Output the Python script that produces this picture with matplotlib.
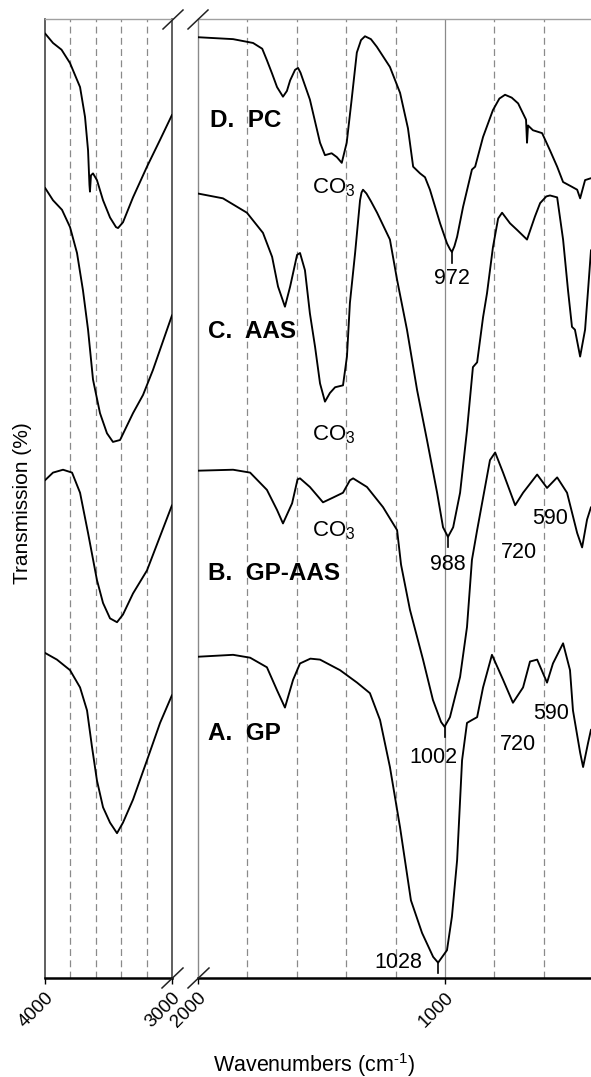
import matplotlib
matplotlib.use("Agg")
import matplotlib.pyplot as plt
from matplotlib.lines import Line2D

plt.rcParams['font.family'] = ['Liberation Sans', 'DejaVu Sans']
plt.rcParams['mathtext.fontset'] = 'custom'
plt.rcParams['mathtext.rm'] = 'Liberation Sans'
plt.rcParams['mathtext.it'] = 'Liberation Sans:italic'

# ---- spectra: wavenumber (cm-1) and transmission (offset, arbitrary %) ----
# D. PC
D_wn = [4000, 3937, 3870, 3803, 3724, 3685, 3661, 3650, 3646, 3638, 3622, 3591, 3543, 3488, 3441, 3425,
        3386, 3307, 3197, 3094, 3000,
        2000, 1858, 1777, 1740, 1721, 1700, 1680, 1656, 1640, 1627, 1607, 1595, 1585, 1547, 1506, 1486,
        1459, 1438, 1418, 1398, 1378, 1357, 1340, 1324, 1300, 1276, 1223, 1182, 1150, 1129, 1101,
        1081, 1061, 1020, 992, 980, 972, 962, 951, 927, 891, 878, 846, 806, 780, 757, 730, 704, 672,
        668, 664, 644, 607, 575, 546, 522, 486, 465, 453, 433, 409]
D_T = [98.5, 97.5, 96.8, 95.4, 92.9, 89.8, 86.3, 82.7, 82.0, 83.7, 83.9, 83.2, 81.1, 79.3, 78.3, 78.2,
       78.8, 81.4, 84.6, 87.4, 90.0,
       98.1, 97.9, 97.5, 96.9, 95.7, 94.3, 92.9, 91.9, 92.5, 93.6, 94.7, 94.9, 94.4, 91.6, 87.1, 85.8,
       86.0, 85.6, 85.0, 87.1, 91.6, 96.5, 97.8, 98.2, 97.9, 97.1, 95.0, 92.3, 88.6, 84.6, 83.9,
       83.5, 82.2, 78.7, 76.6, 76.0, 75.7, 76.3, 77.3, 80.4, 84.3, 84.6, 87.7, 90.5, 91.7, 92.1, 91.8,
       91.2, 89.5, 87.1, 88.9, 88.4, 88.1, 86.3, 84.6, 83.0, 82.5, 82.2, 81.3, 83.2, 83.4]

# C. AAS
C_wn = [4000, 3937, 3866, 3803, 3748, 3701, 3661, 3622, 3567, 3512, 3465, 3409, 3307, 3228, 3150, 3000,
        2000, 1899, 1802, 1737, 1700, 1676, 1648, 1627, 1599, 1587, 1567, 1547, 1526, 1506, 1486,
        1466, 1445, 1413, 1397, 1385, 1364, 1344, 1338, 1332, 1318, 1300, 1275, 1223, 1194, 1154,
        1113, 1073, 1032, 1008, 988, 967, 939, 911, 887, 870, 846, 830, 806, 785, 769, 737, 708, 668,
        636, 615, 590, 575, 546, 522, 502, 486, 474, 453, 433, 421, 409]
C_T = [82.4, 81.1, 80.1, 78.3, 75.6, 71.7, 67.6, 62.4, 58.9, 56.8, 55.9, 56.1, 58.9, 60.8, 63.4, 69.1,
       81.8, 81.3, 79.8, 77.7, 75.2, 72.1, 70.0, 72.1, 75.4, 75.6, 73.8, 69.3, 65.8, 62.0, 60.1,
       61.0, 61.6, 61.8, 64.8, 70.4, 75.6, 81.1, 81.9, 82.2, 81.8, 81.0, 79.8, 77.0, 72.8, 67.6,
       61.3, 56.1, 50.6, 47.0, 46.0, 47.0, 50.6, 57.1, 63.7, 64.2, 68.9, 71.4, 76.2, 79.2, 79.8,
       78.7, 78.0, 77.0, 79.4, 80.8, 81.5, 81.6, 81.4, 77.0, 71.7, 67.9, 67.6, 64.8, 67.6, 71.7, 75.9]

# B. GP-AAS
B_wn = [4000, 3937, 3858, 3787, 3724, 3661, 3591, 3543, 3488, 3433, 3386, 3307, 3197, 3000,
        2000, 1858, 1789, 1721, 1680, 1656, 1619, 1597, 1587, 1547, 1494, 1453, 1413, 1385, 1372,
        1316, 1251, 1194, 1178, 1142, 1089, 1049, 1016, 1002, 980, 939, 911, 891, 870, 818, 797, 765,
        716, 684, 627, 587, 546, 506, 465, 445, 425, 409]
B_T = [51.9, 52.7, 53.0, 52.7, 50.6, 46.4, 41.5, 39.1, 37.5, 37.1, 37.9, 40.1, 42.5, 49.3,
       52.9, 53.0, 52.7, 50.9, 48.8, 47.4, 49.5, 52.0, 52.1, 51.2, 49.6, 50.1, 50.6, 51.9, 52.1,
       51.2, 49.1, 46.7, 43.1, 38.4, 33.2, 29.0, 26.7, 26.2, 27.2, 31.4, 36.6, 43.6, 46.7, 54.0,
       54.8, 52.7, 49.3, 50.6, 52.5, 51.1, 52.2, 50.6, 46.4, 44.9, 47.8, 49.1]

# A. GP
A_wn = [4000, 3906, 3803, 3724, 3669, 3630, 3591, 3543, 3488, 3433, 3386, 3307, 3197, 3094, 3000,
        2000, 1858, 1789, 1721, 1680, 1648, 1615, 1587, 1545, 1506, 1425, 1356, 1304, 1263, 1223,
        1182, 1138, 1093, 1048, 1028, 992, 972, 951, 931, 911, 891, 870, 846, 810, 765, 725, 684,
        656, 627, 587, 563, 522, 494, 482, 453, 441, 421, 409]
A_T = [33.9, 33.2, 32.1, 30.3, 27.9, 24.1, 20.6, 17.8, 16.2, 15.1, 16.2, 18.6, 22.7, 26.6, 29.5,
       33.5, 33.7, 33.4, 32.4, 30.0, 28.2, 31.1, 32.8, 33.3, 33.2, 32.1, 30.8, 29.7, 26.9, 22.0,
       15.7, 8.1, 4.7, 2.2, 1.6, 2.9, 6.4, 12.3, 22.7, 26.6, 26.9, 27.2, 30.3, 33.7, 31.1, 28.7,
       30.3, 33.0, 33.2, 30.8, 32.8, 34.9, 32.1, 27.9, 23.5, 22.0, 24.5, 25.9]

series = [(D_wn, D_T), (C_wn, C_T), (B_wn, B_T), (A_wn, A_T)]
series_names = ["D.  PC", "C.  AAS", "B.  GP-AAS", "A.  GP"]

# main Si-O-T band minima
peak_wn = [972, 988, 1002, 1028]
peak_T = [75.7, 46.0, 26.2, 1.6]

left_grid = [3800, 3600, 3400, 3200]
right_grid = [1800, 1600, 1400, 1200, 800, 600]

W, H = 591, 1077
fig = plt.figure(figsize=(W / 100, H / 100), dpi=100)
bottom = 1 - 978 / H
height = 959 / H
axL = fig.add_axes([45 / W, bottom, 127 / W, height])
axR = fig.add_axes([198 / W, bottom, 393 / W, height])

for ax in (axL, axR):
    for wn, T in series:
        ax.plot(wn, T, color='black', lw=1.35, zorder=3,
                solid_joinstyle='round', solid_capstyle='round')
    ax.set_ylim(0, 100)
    ax.set_yticks([])
    ax.tick_params(axis='x', direction='out', length=4, width=1, pad=4,
                   labelsize=13.5, color='black')
    ax.spines['top'].set_color('#a0a0a0')
    ax.spines['top'].set_linewidth(1.0)
    ax.spines['bottom'].set_color('black')
    ax.spines['bottom'].set_linewidth(1.8)

axL.set_xlim(4000, 3000)
axR.set_xlim(2000, 409)
axL.set_xticks([4000, 3000])
axR.set_xticks([2000, 1000])
for ax in (axL, axR):
    for lbl in ax.get_xticklabels():
        lbl.set_rotation(45)
        lbl.set_ha('right')
        lbl.set_va('top')
        lbl.set_rotation_mode('anchor')

for x in left_grid:
    axL.axvline(x, color='#8a8a8a', lw=0.9, ls=(0, (5.5, 3.5)), zorder=1)
for x in right_grid:
    axR.axvline(x, color='#8a8a8a', lw=0.9, ls=(0, (5.5, 3.5)), zorder=1)
axR.axvline(1000, color='#8a8a8a', lw=0.9, zorder=1)

axL.spines['left'].set_color('#444444')
axL.spines['right'].set_color('#444444')
axL.spines['left'].set_linewidth(1.2)
axL.spines['right'].set_linewidth(1.2)
axR.spines['left'].set_color('#8a8a8a')
axR.spines['left'].set_linewidth(1.0)
axR.spines['right'].set_visible(False)

# sample names
name_pos = [(1951, 89.4), (1960, 67.4), (1960, 42.2), (1960, 25.5)]
for name, (x, y) in zip(series_names, name_pos):
    axR.text(x, y, name, fontsize=17.5, fontweight='bold', ha='left', va='center', zorder=4)

# carbonate bands
for y in [81.8, 56.1, 46.0]:
    axR.text(1538, y, "CO$_3$", fontsize=16, ha='left', va='baseline', zorder=4)

# band minima markers and labels
label_offsets = [(0, -19), (0, -20), (-8, -22), (-29, 0)]
for wn, T, (dx, dy) in zip(peak_wn, peak_T, label_offsets):
    axR.plot([wn, wn], [T, T - 1.1], color='black', lw=1.2, zorder=4)
    axR.annotate(str(wn), (wn, T), xytext=(dx, dy), textcoords='offset points',
                 fontsize=15.5, ha='center', va='center', zorder=4)

# other band positions
axR.text(700, 44.4, "720", fontsize=15.5, ha='center', va='center')
axR.text(575, 47.9, "590", fontsize=15.5, ha='center', va='center')
axR.text(704, 24.3, "720", fontsize=15.5, ha='center', va='center')
axR.text(571, 27.6, "590", fontsize=15.5, ha='center', va='center')

# axis break marks
def slash(x0, y0, x1, y1):
    fig.add_artist(Line2D([x0 / W, x1 / W], [1 - y0 / H, 1 - y1 / H],
                          color='#222222', lw=1.1))

slash(163, 29, 183, 10)
slash(188, 29, 208, 10)
slash(162, 988, 183, 968)
slash(188, 988, 209, 968)

fig.text(314 / W, 1 - 1065 / H, "Wavenumbers (cm$^{\u2010 1}$)", fontsize=15.5,
         ha='center', va='center')
fig.text(23 / W, 1 - 503 / H, "Transmission (%)", fontsize=15, rotation=90,
         ha='center', va='center')

fig.savefig("out.png", dpi=100)
